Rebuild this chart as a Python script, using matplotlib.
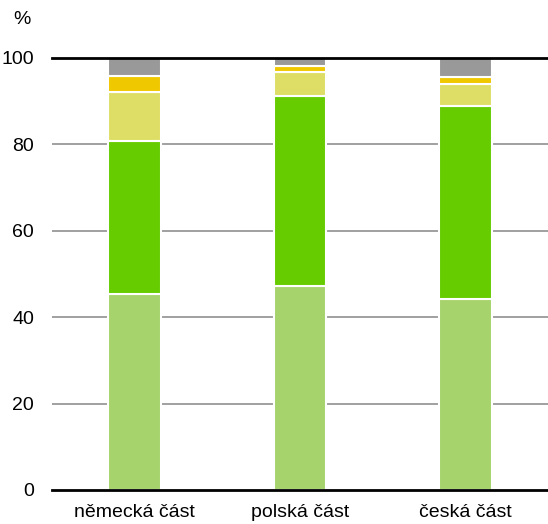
import matplotlib
matplotlib.use("Agg")
import matplotlib.pyplot as plt
import numpy as np

plt.rcParams['font.family'] = ['Liberation Sans', 'DejaVu Sans']

categories = ["německá část", "polská část", "česká část"]
seg1 = [45.4, 47.3, 44.1]
seg2 = [35.5, 43.8, 44.8]
seg3 = [11.3, 5.7, 5.1]
seg4 = [3.7, 1.3, 1.6]
seg5 = [4.1, 1.9, 4.4]
series = [seg1, seg2, seg3, seg4, seg5]
colors = ["#a6d36c", "#66cc00", "#dede66", "#f0c800", "#999999"]
yticks = [0, 20, 40, 60, 80, 100]

fig = plt.figure(figsize=(5.48, 5.24), dpi=100)
ax = fig.add_axes([52/548, 34/524, 496/548, 432/524])

x = np.arange(len(categories))
bottom = np.zeros(len(categories))
for vals, c in zip(series, colors):
    ax.bar(x, vals, bottom=bottom, width=0.32, color=c, edgecolor="white", linewidth=1.5, zorder=3)
    bottom += np.array(vals)

ax.set_xlim(-0.5, 2.5)
ax.set_ylim(0, 100)
ax.set_yticks(yticks)
ax.set_yticklabels([str(t) for t in yticks], fontsize=14)
for t in yticks:
    if t in (0, 100):
        ax.axhline(t, color="black", lw=2, zorder=4, clip_on=False)
    else:
        ax.axhline(t, color="#999999", lw=1.3, zorder=1)
ax.set_xticks(x)
ax.set_xticklabels(categories, fontsize=14)
ax.tick_params(axis='y', length=0, pad=13)
ax.tick_params(axis='x', length=0, pad=10)
for s in ax.spines.values():
    s.set_visible(False)
fig.text(13/548, 1 - 20/524, "%", fontsize=14, ha="left", va="center")

fig.savefig("out.png", dpi=100)
